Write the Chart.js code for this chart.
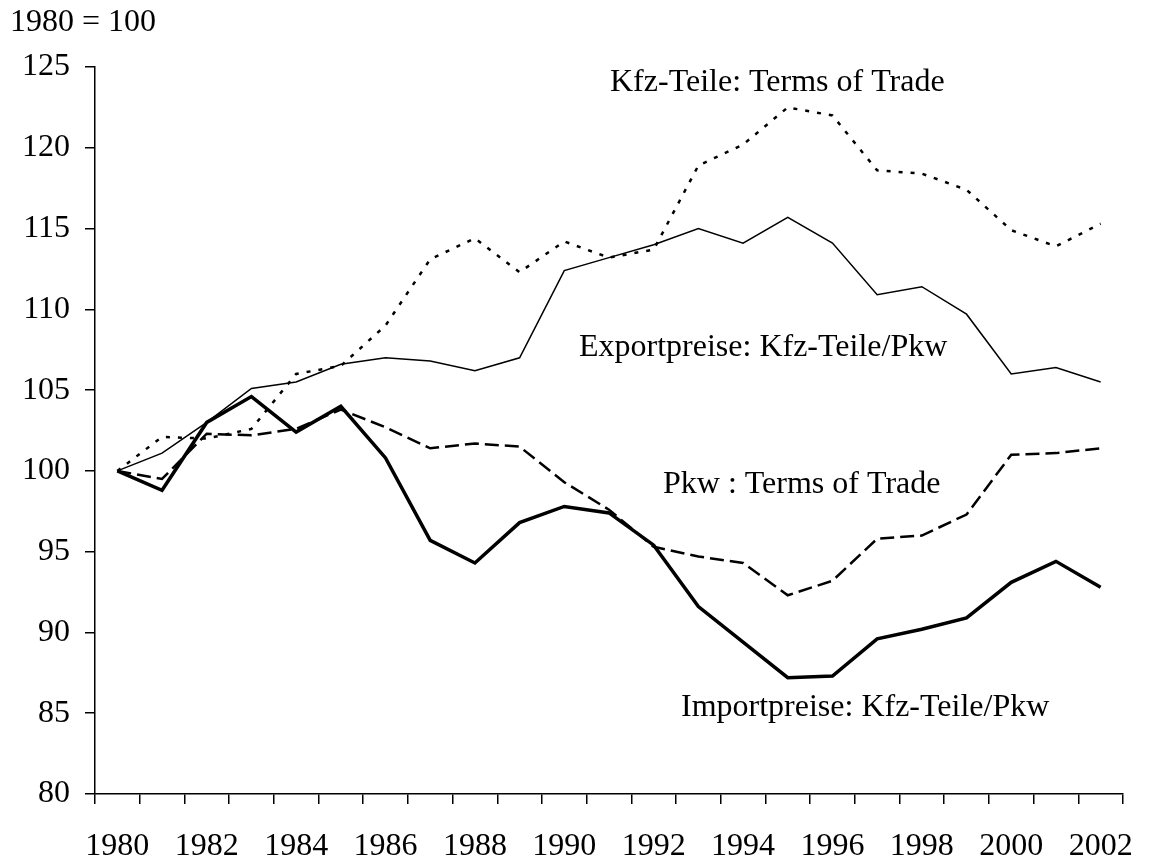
<!DOCTYPE html>
<html>
<head>
<meta charset="utf-8">
<script src="https://cdn.jsdelivr.net/npm/chart.js@4.4.1/dist/chart.umd.min.js"></script>
<style>
  html, body { margin: 0; padding: 0; background: #fff; }
  #wrap { width: 1156px; height: 859px; }
</style>
</head>
<body>
<div id="wrap"><canvas id="grafico" width="1156" height="859"></canvas></div>
<script>
// === DADOS ===
const jahre = [1980, 1981, 1982, 1983, 1984, 1985, 1986, 1987, 1988, 1989, 1990, 1991,
  1992, 1993, 1994, 1995, 1996, 1997, 1998, 1999, 2000, 2001, 2002];

const kfzTeileToT = [100, 102.1, 102.0, 102.6, 106.0, 106.5, 109.0, 113.1, 114.4, 112.3, 114.2, 113.2,
  113.7, 118.9, 120.2, 122.5, 122.0, 118.6, 118.4, 117.4, 114.9, 113.9, 115.3];

const exportpreise = [100, 101.1, 103.0, 105.1, 105.5, 106.6, 107.0, 106.8, 106.2, 107.0, 112.4, 113.2,
  114.0, 115.0, 114.1, 115.7, 114.1, 110.9, 111.4, 109.7, 106.0, 106.4, 105.5];

const pkwToT = [100, 99.5, 102.3, 102.2, 102.6, 103.8, 102.7, 101.4, 101.7, 101.5, 99.3, 97.6,
  95.3, 94.7, 94.3, 92.3, 93.2, 95.8, 96.0, 97.3, 101.0, 101.1, 101.4];

const importpreise = [100, 98.8, 103.0, 104.6, 102.4, 104.0, 100.8, 95.7, 94.3, 96.8, 97.8, 97.4,
  95.4, 91.6, 89.4, 87.2, 87.3, 89.6, 90.2, 90.9, 93.1, 94.4, 92.8];

const beschriftungen = [
  { text: "1980 = 100", x: 10, y: 23 },
  { text: "Kfz-Teile: Terms of Trade", x: 610, y: 83 },
  { text: "Exportpreise: Kfz-Teile/Pkw", x: 579, y: 348 },
  { text: "Pkw : Terms of Trade", x: 663, y: 485 },
  { text: "Importpreise: Kfz-Teile/Pkw", x: 681, y: 708 },
];

const FONTE = "Liberation Serif, Times New Roman, serif";

// === TEXTOS SOLTOS ===
const textosPlugin = {
  id: "textos",
  afterDraw(chart) {
    const ctx = chart.ctx;
    ctx.save();
    ctx.fillStyle = "#000";
    ctx.font = "32px " + FONTE;
    ctx.textAlign = "left";
    ctx.textBaseline = "middle";
    beschriftungen.forEach((b) => ctx.fillText(b.text, b.x, b.y));
    ctx.restore();
  },
};

new Chart(document.getElementById("grafico"), {
  type: "line",
  data: {
    labels: jahre,
    datasets: [
      {
        label: "Kfz-Teile: Terms of Trade",
        data: kfzTeileToT,
        borderColor: "#000",
        borderWidth: 2.5,
        borderDash: [4, 8],
      },
      {
        label: "Exportpreise: Kfz-Teile/Pkw",
        data: exportpreise,
        borderColor: "#000",
        borderWidth: 1.5,
      },
      {
        label: "Pkw : Terms of Trade",
        data: pkwToT,
        borderColor: "#000",
        borderWidth: 2.5,
        borderDash: [14, 6],
      },
      {
        label: "Importpreise: Kfz-Teile/Pkw",
        data: importpreise,
        borderColor: "#000",
        borderWidth: 3.5,
      },
    ],
  },
  options: {
    responsive: false,
    animation: false,
    devicePixelRatio: 1,
    layout: { padding: { top: 67, right: 17, left: 0, bottom: 0 } },
    elements: { point: { radius: 0 }, line: { tension: 0, fill: false } },
    plugins: { legend: { display: false }, tooltip: { enabled: false } },
    scales: {
      x: {
        type: "category",
        offset: true,
        grid: { offset: true, drawOnChartArea: false, drawTicks: true, tickLength: 10, color: "#000", lineWidth: 1.5 },
        border: { color: "#000", width: 1.5 },
        ticks: {
          autoSkip: false,
          maxRotation: 0,
          padding: 23,
          color: "#000",
          font: { family: FONTE, size: 32 },
          callback: (v, i) => (i % 2 === 0 ? String(jahre[i]) : ""),
        },
        afterFit: (s) => { s.height = 65; },
      },
      y: {
        min: 80,
        max: 125,
        grid: { drawOnChartArea: false, drawTicks: true, tickLength: 10, color: "#000", lineWidth: 1.5 },
        border: { color: "#000", width: 1.5 },
        ticks: {
          stepSize: 5,
          padding: 15,
          color: "#000",
          font: { family: FONTE, size: 32 },
        },
        afterFit: (s) => { s.width = 95; },
      },
    },
  },
  plugins: [textosPlugin],
});
</script>
</body>
</html>
